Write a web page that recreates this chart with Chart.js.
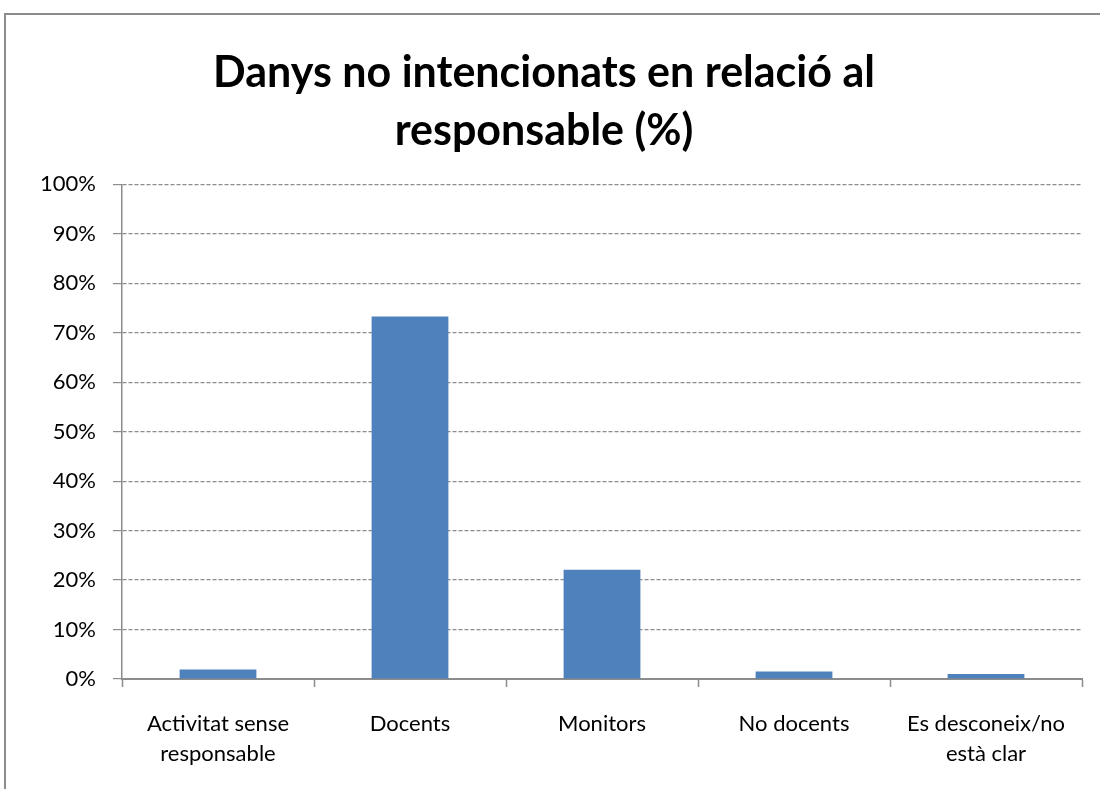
<!DOCTYPE html>
<html>
<head>
<meta charset="utf-8">
<title>Danys no intencionats en relació al responsable (%)</title>
<script src="https://cdn.jsdelivr.net/npm/chart.js@4.4.1/dist/chart.umd.min.js"></script>
<style>
    html, body { margin: 0; padding: 0; background: #fff; overflow: hidden; }
    #frame {
        position: absolute;
        left: 4px;
        top: 13px;
        width: 1100px;
        height: 790px;
        border: 2px solid #8c8c8c;
        box-sizing: border-box;
    }
    #wrap {
        position: absolute;
        left: 6px;
        top: 15px;
        width: 1094px;
        height: 774px;
    }
</style>
</head>
<body>
<div id="frame"></div>
<div id="wrap"><canvas id="responsableChart"></canvas></div>
<script>
'use strict';

// ============================================================================
// Data
// ============================================================================

const categories = [
    ['Activitat sense', 'responsable'],
    'Docents',
    'Monitors',
    'No docents',
    ['Es desconeix/no', 'està clar']
];

const percentages = [1.9, 73.3, 22.1, 1.5, 1.0];

const yTicks = [0, 10, 20, 30, 40, 50, 60, 70, 80, 90, 100];

const titleLines = ['Danys no intencionats en relació al', 'responsable (%)'];

// ============================================================================
// Chart
// ============================================================================

const axisGrey = '#8c8c8c';
const fontFamily = "Lato, 'Open Sans', sans-serif";

const canvas = document.getElementById('responsableChart');

new Chart(canvas, {
    type: 'bar',
    data: {
        labels: categories,
        datasets: [{
            label: 'Danys',
            data: percentages,
            backgroundColor: '#4f81bd',
            borderWidth: 0,
            categoryPercentage: 1,
            barPercentage: 0.4
        }]
    },
    options: {
        responsive: true,
        maintainAspectRatio: false,
        animation: false,
        layout: {
            padding: { left: 0, right: 18, top: 0, bottom: 0 }
        },
        plugins: {
            legend: { display: false },
            tooltip: { enabled: false },
            title: {
                display: true,
                text: titleLines,
                color: '#000',
                font: { family: fontFamily, size: 43, weight: 'bold', lineHeight: 1.33 },
                padding: { top: 30, bottom: 25 }
            }
        },
        scales: {
            x: {
                afterFit(scale) { scale.height = 110; },
                grid: {
                    offset: true,
                    drawOnChartArea: false,
                    drawTicks: true,
                    tickLength: 8,
                    tickColor: axisGrey,
                    tickWidth: 1.5
                },
                border: { display: true, color: axisGrey, width: 2 },
                ticks: {
                    color: '#000',
                    padding: 22,
                    maxRotation: 0,
                    autoSkip: false,
                    font: { family: fontFamily, size: 22, lineHeight: 1.36 }
                }
            },
            y: {
                min: 0,
                max: 100,
                afterFit(scale) { scale.width = 116; },
                afterBuildTicks(scale) {
                    scale.ticks = yTicks.map(v => ({ value: v }));
                },
                grid: {
                    color: axisGrey,
                    lineWidth: 1.2,
                    drawTicks: true,
                    tickLength: 9,
                    tickColor: axisGrey,
                    tickBorderDash: []
                },
                border: { display: true, color: axisGrey, width: 1.5, dash: [4, 2] },
                ticks: {
                    color: '#000',
                    padding: 17,
                    font: { family: fontFamily, size: 22 },
                    callback: value => value + '%'
                }
            }
        }
    }
});
</script>
</body>
</html>
